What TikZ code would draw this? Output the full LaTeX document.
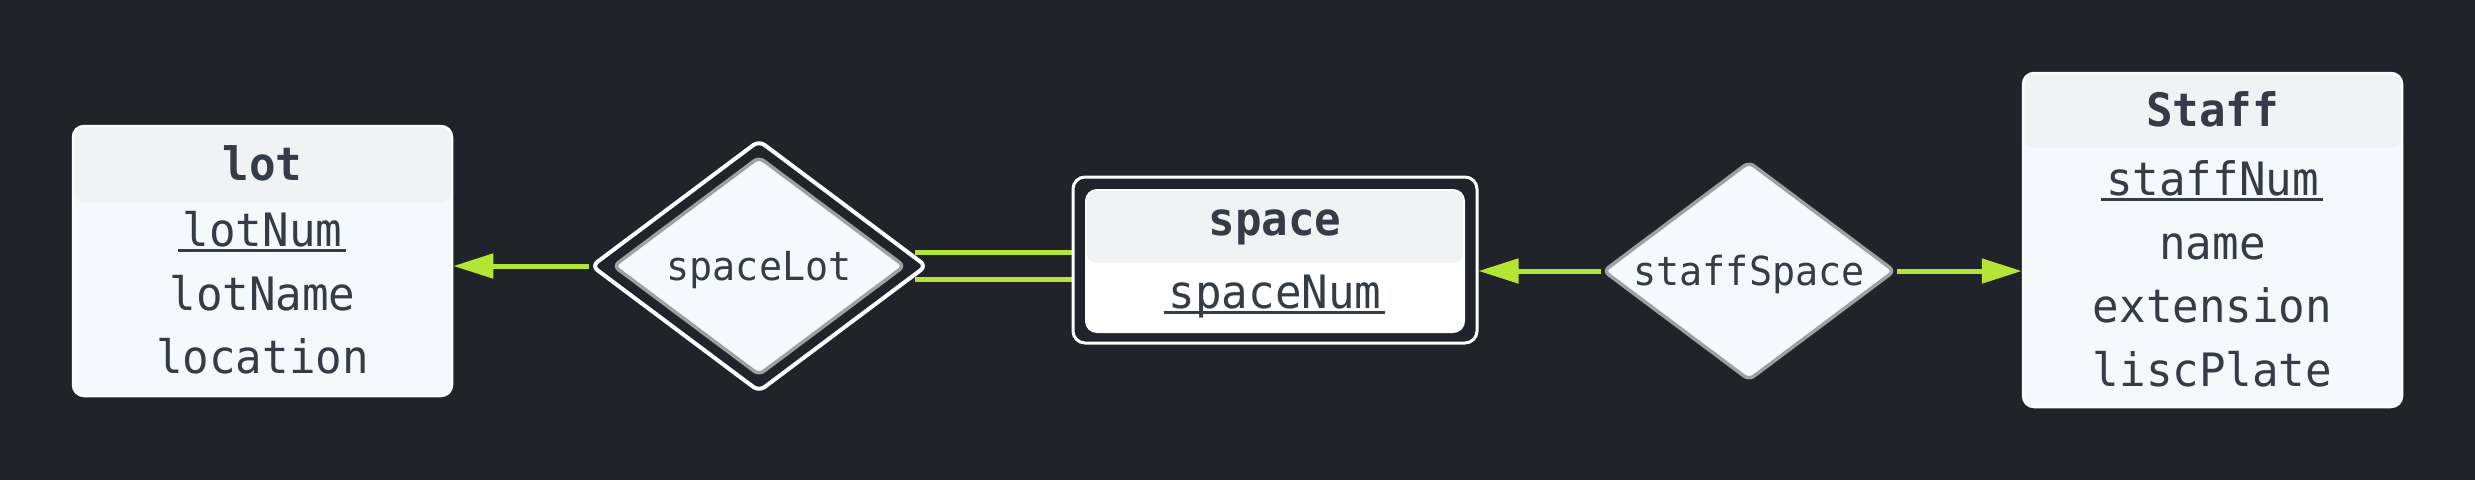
\documentclass[tikz,border=0pt]{standalone}
\usepackage{fontspec}
\newfontfamily\erfont[FakeStretch=0.96]{DejaVu Sans Mono}
\usetikzlibrary{shapes.geometric,arrows.meta,positioning}

\definecolor{bgc}{HTML}{20232A}
\definecolor{linkc}{HTML}{B5E534}
\definecolor{inkc}{HTML}{363C47}
\definecolor{headc}{HTML}{F1F2F4}
\definecolor{bodyc}{HTML}{F5F9FE}
\definecolor{edgec}{HTML}{A0A0A0}

% key attribute: thick underline a bit wider than the word
\newcommand\keyattr[1]{\setbox0\hbox{#1}\rlap{\hspace*{-5pt}\rule[-5.5pt]{\dimexpr\wd0+9pt\relax}{3pt}}\box0}

\pgfdeclarelayer{back}
\pgfdeclarelayer{links}
\pgfsetlayers{back,links,main}

\tikzset{
  entity/.style={draw=white, line width=2.5pt, fill=bodyc, rounded corners=11pt,
    minimum width=379pt, inner sep=0pt,
    path picture={\fill[headc] (path picture bounding box.north west) rectangle ([yshift=-#1]path picture bounding box.north east);}},
  weakframe/.style={draw=white, line width=3pt, fill=bgc, rounded corners=12pt,
    minimum width=404pt, minimum height=166pt, inner sep=0pt},
  etitle/.style={font=\erfont\bfseries\fontsize{46}{50}\selectfont, text=inkc},
  eattr/.style={font=\erfont\fontsize{46}{63.5}\selectfont, text=inkc, align=center},
  rel/.style={diamond, draw=edgec, line width=3.5pt, fill=bodyc, rounded corners=6pt,
    aspect=1.34, inner sep=0pt, minimum width=292pt, minimum height=219pt,
    text height=28pt, text depth=0pt, font=\erfont\fontsize{40}{44}\selectfont, text=inkc},
  weakrel/.style={diamond, draw=white, line width=4pt, fill=bgc, rounded corners=7pt,
    aspect=1.333, inner sep=0pt, minimum width=336pt, minimum height=252pt},
  link/.style={draw=linkc, line width=5pt, -{Triangle[length=40pt,width=24pt]}},
  dlink/.style={draw=linkc, line width=5pt, double=bgc, double distance=22pt}
}

\begin{document}
\begin{tikzpicture}[x=1pt,y=-1pt]
  \begin{pgfonlayer}{back}
    \fill[bgc] (0,0) rectangle (2475,480);
  \end{pgfonlayer}
  \useasboundingbox (0,0) rectangle (2475,480);

  % lot
  \node[entity=76pt, minimum height=270pt] (lot) at (262.5,261) {};
  \node[etitle] (lottitle) at (262.5,163) {lot};
  \node[eattr] (lotattr) at (262.5,293) {\keyattr{lotNum}\\lotName\\location};

  % spaceLot
  \node[weakrel] (spacelot) at (759,266) {};
  \node[rel] (spacelotin) at (759,266) {spaceLot};

  % space
  \node[weakframe] (space) at (1275,260) {};
  \node[entity=73pt, fill=white, line width=2pt, minimum width=378pt, minimum height=142pt] (spacein) at (1275,261) {};
  \node[etitle] (spacetitle) at (1275,227) {space};
  \node[eattr] (spaceattr) at (1275,297) {\keyattr{spaceNum}};

  % staffSpace
  \node[rel] (staffspace) at (1749,271) {staffSpace};

  % Staff
  \node[entity=75pt, minimum height=334pt] (staff) at (2212.5,240) {};
  \node[etitle] (stafftitle) at (2212.5,109) {Staff};
  \node[eattr] (staffattr) at (2212.5,274) {\keyattr{staffNum}\\name\\extension\\liscPlate};

  \begin{pgfonlayer}{links}
    \draw[link] (spacelot.west) -- (spacelot.west -| lot.east);
    \draw[dlink] ([xshift=-14pt]spacelot.east) -- (spacelot.east -| space.west);
    \draw[link] (staffspace.west) -- (staffspace.west -| space.east);
    \draw[link] (staffspace.east) -- (staffspace.east -| staff.west);
  \end{pgfonlayer}
\end{tikzpicture}
\end{document}
